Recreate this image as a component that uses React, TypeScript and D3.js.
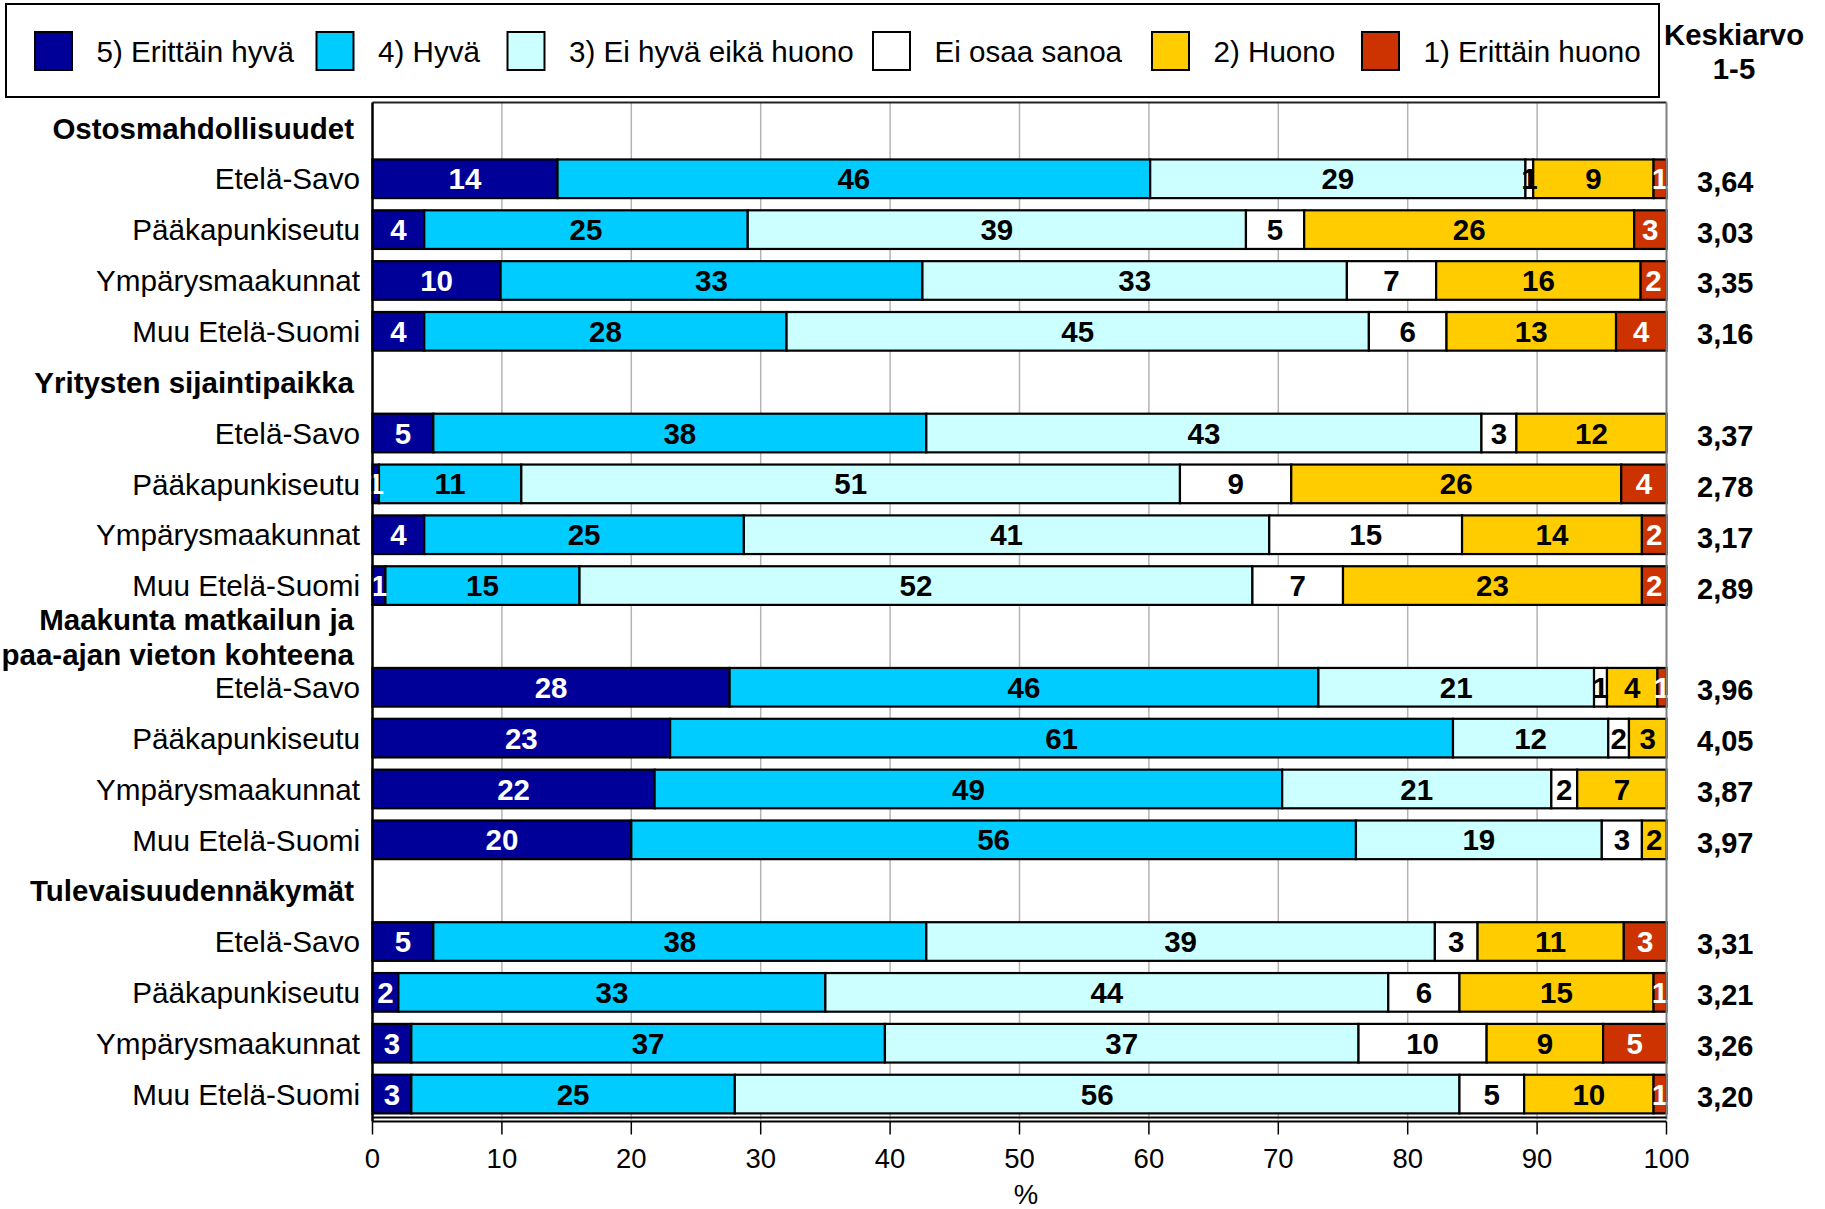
import React from "react";
import * as d3 from "d3";

// ---- data ----
const regions = ["Etelä-Savo", "Pääkapunkiseutu", "Ympärysmaakunnat", "Muu Etelä-Suomi"];
const groupTitles: string[][] = [
  ["Ostosmahdollisuudet"],
  ["Yritysten sijaintipaikka"],
  ["Maakunta matkailun ja", "paa-ajan vieton kohteena"],
  ["Tulevaisuudennäkymät"],
];
const seriesNames = [
  "5) Erittäin hyvä",
  "4) Hyvä",
  "3) Ei hyvä eikä huono",
  "Ei osaa sanoa",
  "2) Huono",
  "1) Erittäin huono",
];
const erittainHyva = [14.3, 4.0, 9.9, 4.0, 4.7, 0.5, 4.0, 1.0, 27.6, 23.0, 21.8, 20.0, 4.7, 2.0, 3.0, 3.0];
const hyva = [45.8, 25.0, 32.6, 28.0, 38.1, 11.0, 24.7, 15.0, 45.5, 60.5, 48.5, 56.0, 38.1, 33.0, 36.6, 25.0];
const eiHyvaEikaHuono = [29.0, 38.5, 32.8, 45.0, 42.9, 50.9, 40.6, 52.0, 21.3, 12.0, 20.8, 19.0, 39.3, 43.5, 36.6, 56.0];
const eiOsaaSanoa = [0.6, 4.5, 6.9, 6.0, 2.7, 8.6, 14.9, 7.0, 1.0, 1.6, 2.0, 3.1, 3.3, 5.5, 9.9, 5.0];
const huono = [9.3, 25.5, 15.8, 13.1, 11.6, 25.5, 13.9, 23.1, 3.9, 2.9, 6.9, 1.9, 11.3, 15.0, 9.0, 10.0];
const erittainHuono = [1.0, 2.5, 2.0, 3.9, 0, 3.5, 1.9, 1.9, 0.7, 0, 0, 0, 3.3, 1.0, 4.9, 1.0];
const keskiarvo = [3.64, 3.03, 3.35, 3.16, 3.37, 2.78, 3.17, 2.89, 3.96, 4.05, 3.87, 3.97, 3.31, 3.21, 3.26, 3.2];
const xTicks = [0, 10, 20, 30, 40, 50, 60, 70, 80, 90, 100];

const seriesValues = [erittainHyva, hyva, eiHyvaEikaHuono, eiOsaaSanoa, huono, erittainHuono];
const seriesColors = ["#000099", "#00CCFF", "#CCFFFF", "#FFFFFF", "#FFCC00", "#CC3300"];
const labelColors = ["#fff", "#000", "#000", "#000", "#000", "#fff"];

// ---- layout ----
const W = 1825;
const H = 1209;
const plotL = 372.5;
const plotR = 1666.5;
const plotT = 102.5;
const plotB = 1119.5;
const FONT = "'Liberation Sans', Arial, sans-serif";

export default function App() {
  const x = d3.scaleLinear().domain([0, 100]).range([plotL, plotR]);
  const nRows = groupTitles.length * (regions.length + 1);
  const y = d3
    .scaleBand<number>()
    .domain(d3.range(nRows))
    .range([plotT, plotB])
    .paddingInner(0.24)
    .paddingOuter(0.12);
  const step = y.step();
  const rowCenter = (r: number) => (y(r) as number) + y.bandwidth() / 2;

  const rows: { row: number; idx: number; region: string }[] = [];
  const headers: { row: number; lines: string[] }[] = [];
  let r = 0;
  let idx = 0;
  groupTitles.forEach((g) => {
    headers.push({ row: r, lines: g });
    r++;
    regions.forEach((reg) => {
      rows.push({ row: r, idx, region: reg });
      r++;
      idx++;
    });
  });

  const stackData = rows.map((rw) => {
    const o: any = { row: rw.row, idx: rw.idx };
    seriesValues.forEach((s, i) => (o["s" + i] = s[rw.idx]));
    return o;
  });
  const stack = d3.stack<any>().keys(seriesValues.map((_, i) => "s" + i));
  const stacked = stack(stackData);

  const legendSwatchX = [35, 316.5, 507.5, 873, 1152, 1362];

  return (
    <svg
      width={W}
      height={H}
      style={{ position: "absolute", left: 0, top: 0, background: "#fff" }}
      fontFamily={FONT}
    >
      <rect x={0} y={0} width={W} height={H} fill="#fff" />
      {/* Legend */}
      <rect x={6} y={4} width={1653} height={93} fill="#fff" stroke="#000" strokeWidth={2} />
      {seriesNames.map((name, i) => (
        <g key={name}>
          <rect
            x={legendSwatchX[i]}
            y={32}
            width={37}
            height={38}
            fill={seriesColors[i]}
            stroke="#000"
            strokeWidth={2}
          />
          <text x={legendSwatchX[i] + 61.5} y={51} dy="0.36em" fontSize={29.6} fill="#000">
            {name}
          </text>
        </g>
      ))}
      <text x={1734} y={34} dy="0.36em" fontSize={29.3} fontWeight="bold" textAnchor="middle">
        Keskiarvo
      </text>
      <text x={1734} y={68} dy="0.36em" fontSize={29.3} fontWeight="bold" textAnchor="middle">
        1-5
      </text>

      {/* Plot area */}
      <rect x={plotL} y={plotT} width={plotR - plotL} height={plotB - plotT} fill="#fff" />
      {xTicks.slice(1, -1).map((t) => (
        <line key={t} x1={x(t)} x2={x(t)} y1={plotT} y2={plotB} stroke="#b4b4b4" strokeWidth={1.5} />
      ))}

      {/* Bars */}
      {stacked.map((layer, si) => (
        <g key={si}>
          {layer.map((d: any) => {
            const v = d.data["s" + si];
            if (!v) return null;
            const x0 = x(d[0]);
            const x1 = x(d[1]);
            return (
              <rect
                key={d.data.row}
                x={x0}
                y={y(d.data.row)}
                width={x1 - x0}
                height={y.bandwidth()}
                fill={seriesColors[si]}
                stroke="#000"
                strokeWidth={2.2}
              />
            );
          })}
        </g>
      ))}
      {stacked.map((layer, si) => (
        <g key={"l" + si}>
          {layer.map((d: any) => {
            const v = d.data["s" + si];
            if (!v) return null;
            return (
              <text
                key={d.data.row}
                x={x((d[0] + d[1]) / 2)}
                y={rowCenter(d.data.row)}
                dy="0.36em"
                textAnchor="middle"
                fontSize={29.5}
                fontWeight="bold"
                fill={labelColors[si]}
              >
                {Math.round(v)}
              </text>
            );
          })}
        </g>
      ))}

      {/* plot border */}
      <line x1={plotL} x2={plotR} y1={plotT} y2={plotT} stroke="#222" strokeWidth={2} />
      <line x1={plotR} x2={plotR} y1={plotT} y2={plotB} stroke="#808080" strokeWidth={2} />
      <line x1={plotL} x2={plotR} y1={plotB - 2} y2={plotB - 2} stroke="#000" strokeWidth={2} />
      <line x1={plotL} x2={plotL} y1={plotT} y2={plotB + 2} stroke="#000" strokeWidth={2.5} />

      {/* x axis */}
      <line x1={plotL} x2={plotR} y1={plotB + 2} y2={plotB + 2} stroke="#000" strokeWidth={2} />
      {xTicks.map((t) => (
        <g key={"t" + t}>
          <line x1={x(t)} x2={x(t)} y1={plotB + 2} y2={plotB + 15} stroke="#000" strokeWidth={1.5} />
          <text x={x(t)} y={1158} dy="0.36em" textAnchor="middle" fontSize={27.5}>
            {t}
          </text>
        </g>
      ))}
      <text x={1026} y={1194} dy="0.36em" textAnchor="middle" fontSize={27.5}>
        %
      </text>

      {/* category labels */}
      {headers.map((h) =>
        h.lines.map((ln, li) => (
          <text
            key={h.row + "-" + li}
            x={354}
            y={rowCenter(h.row) + (li - (h.lines.length - 1) / 2) * step * 0.69}
            dy="0.36em"
            textAnchor="end"
            fontSize={29.5}
            fontWeight="bold"
          >
            {ln}
          </text>
        ))
      )}
      {rows.map((rw) => (
        <text
          key={"r" + rw.row}
          x={360}
          y={rowCenter(rw.row)}
          dy="0.36em"
          textAnchor="end"
          fontSize={29.7}
        >
          {rw.region}
        </text>
      ))}

      {/* means */}
      {rows.map((rw) => (
        <text
          key={"m" + rw.row}
          x={1697}
          y={rowCenter(rw.row) + 2.5}
          dy="0.36em"
          fontSize={29}
          fontWeight="bold"
        >
          {keskiarvo[rw.idx].toFixed(2).replace(".", ",")}
        </text>
      ))}
    </svg>
  );
}
